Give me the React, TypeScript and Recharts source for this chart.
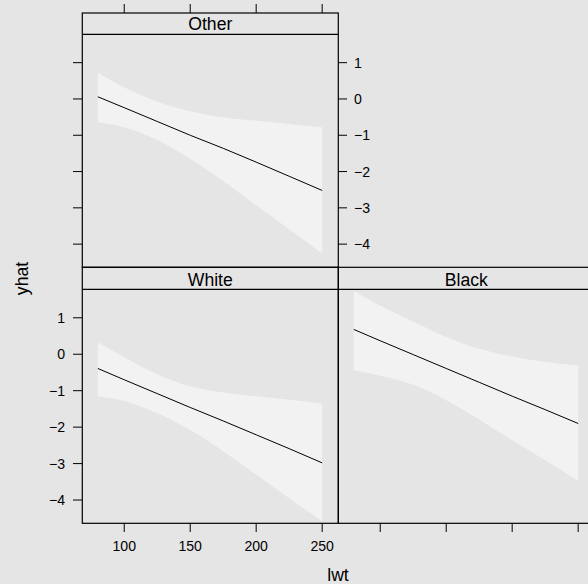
import React from 'react';
import { ComposedChart, Area, Line, XAxis, YAxis } from 'recharts';

const lwt = [80, 100, 125, 150, 175, 200, 225, 250];

const otherFit = [0.06, -0.24, -0.62, -1.0, -1.36, -1.74, -2.13, -2.52];
const otherUpper = [0.73, 0.32, -0.07, -0.34, -0.51, -0.6, -0.69, -0.78];
const otherLower = [-0.64, -0.78, -1.13, -1.65, -2.26, -2.93, -3.59, -4.26];

const whiteFit = [-0.39, -0.7, -1.08, -1.46, -1.83, -2.21, -2.59, -2.98];
const whiteUpper = [0.33, -0.08, -0.55, -0.88, -1.05, -1.15, -1.25, -1.35];
const whiteLower = [-1.16, -1.28, -1.62, -2.08, -2.66, -3.3, -3.95, -4.58];

const blackFit = [0.68, 0.37, -0.01, -0.39, -0.77, -1.15, -1.52, -1.9];
const blackUpper = [1.74, 1.33, 0.9, 0.47, 0.15, -0.06, -0.21, -0.31];
const blackLower = [-0.44, -0.59, -0.84, -1.26, -1.79, -2.36, -2.91, -3.48];

const xTicks = [100, 150, 200, 250];
const yTicks = [-4, -3, -2, -1, 0, 1];
const panelNames = ['Other', 'White', 'Black'];
const xLabel = 'lwt';
const yLabel = 'yhat';

const X_DOMAIN: [number, number] = [68, 262];
const Y_DOMAIN: [number, number] = [-4.63, 1.79];

const BG = '#e5e5e5';
const BAND = '#f2f2f2';
const FONT = '"Liberation Sans", Arial, Helvetica, sans-serif';
const W = 600;
const H = 584;

const build = (fit: number[], lo: number[], hi: number[]) =>
  lwt.map((x, i) => ({ lwt: x, fit: fit[i], band: [lo[i], hi[i]] }));

const fmt = (v: number) => String(v).replace('-', '\u2212');
const blank = () => '';
const tickStyle = { fill: '#000', fontSize: 14.1, fontFamily: FONT };
const tickLineStyle = { stroke: '#000', strokeWidth: 1 };

const TopTick = (props: any) => {
  const { x, y } = props;
  return <line x1={x} x2={x} y1={y - 21} y2={y - 30} stroke="#000" strokeWidth={1} />;
};

function Panel({ data, margin, children }: any) {
  return (
    <div style={{ position: 'absolute', left: 0, top: 0 }}>
      <ComposedChart width={W} height={H} data={data} margin={margin}>
        {children}
        <Area
          yAxisId="y"
          type="natural"
          dataKey="band"
          stroke="none"
          fill={BAND}
          fillOpacity={1}
          isAnimationActive={false}
          dot={false}
          activeDot={false}
        />
        <Line
          yAxisId="y"
          type="linear"
          dataKey="fit"
          stroke="#000"
          strokeWidth={1}
          dot={false}
          activeDot={false}
          isAnimationActive={false}
        />
      </ComposedChart>
    </div>
  );
}

export default function App() {
  const otherData = build(otherFit, otherLower, otherUpper);
  const whiteData = build(whiteFit, whiteLower, whiteUpper);
  const blackData = build(blackFit, blackLower, blackUpper);

  return (
    <div
      style={{
        position: 'absolute',
        left: 0,
        top: 0,
        width: 588,
        height: 584,
        overflow: 'hidden',
        background: BG,
        fontFamily: FONT,
      }}
    >
      {/* Other panel: top-left */}
      <Panel data={otherData} margin={{ top: 14, right: 222, bottom: 317, left: 42 }}>
        <XAxis
          type="number"
          dataKey="lwt"
          orientation="top"
          height={20}
          domain={X_DOMAIN}
          allowDataOverflow
          ticks={xTicks}
          axisLine={false}
          tickLine={false}
          tickSize={0}
          tickMargin={0}
          tick={<TopTick />}
        />
        <YAxis
          yAxisId="y"
          type="number"
          orientation="left"
          width={40}
          domain={Y_DOMAIN}
          allowDataOverflow
          ticks={yTicks}
          axisLine={false}
          tickLine={tickLineStyle}
          tickSize={9}
          tickMargin={8}
          tickFormatter={blank}
          tick={tickStyle}
        />
        <YAxis
          yAxisId="r"
          type="number"
          orientation="right"
          width={40}
          domain={Y_DOMAIN}
          allowDataOverflow
          ticks={yTicks}
          axisLine={false}
          tickLine={tickLineStyle}
          tickSize={9}
          tickMargin={7}
          tickFormatter={fmt}
          tick={tickStyle}
        />
      </Panel>

      {/* White panel: bottom-left */}
      <Panel data={whiteData} margin={{ top: 289, right: 262, bottom: 21, left: 42 }}>
        <XAxis
          type="number"
          dataKey="lwt"
          orientation="bottom"
          height={40}
          domain={X_DOMAIN}
          allowDataOverflow
          ticks={xTicks}
          axisLine={false}
          tickLine={tickLineStyle}
          tickSize={9}
          tickMargin={9}
          tick={tickStyle}
        />
        <YAxis
          yAxisId="y"
          type="number"
          orientation="left"
          width={40}
          domain={Y_DOMAIN}
          allowDataOverflow
          ticks={yTicks}
          axisLine={false}
          tickLine={tickLineStyle}
          tickSize={9}
          tickMargin={8}
          tickFormatter={fmt}
          tick={tickStyle}
        />
      </Panel>

      {/* Black panel: bottom-right */}
      <Panel data={blackData} margin={{ top: 289, right: 6, bottom: 21, left: 338 }}>
        <XAxis
          type="number"
          dataKey="lwt"
          orientation="bottom"
          height={40}
          domain={X_DOMAIN}
          allowDataOverflow
          ticks={xTicks}
          axisLine={false}
          tickLine={tickLineStyle}
          tickSize={9}
          tickMargin={9}
          tickFormatter={blank}
          tick={tickStyle}
        />
        <YAxis yAxisId="y" type="number" hide domain={Y_DOMAIN} allowDataOverflow ticks={yTicks} width={0} />
      </Panel>

      {/* frames, strips and labels */}
      <svg
        width={W}
        height={H}
        style={{ position: 'absolute', left: 0, top: 0, pointerEvents: 'none' }}
      >
        <g fill="none" stroke="#000" strokeWidth={1.2}>
          <rect x={82.3} y={13} width={256} height={254.3} />
          <line x1={82.3} x2={338.3} y1={34.3} y2={34.3} />
          <rect x={82.3} y={267.3} width={256} height={256} />
          <line x1={82.3} x2={338.3} y1={289.3} y2={289.3} />
          <rect x={338.3} y={267.3} width={256} height={256} />
          <line x1={338.3} x2={594.3} y1={289.3} y2={289.3} />
        </g>
        <g fontFamily={FONT} fontSize={17.6} fill="#000" textAnchor="middle">
          <text x={210.3} y={30.3}>{panelNames[0]}</text>
          <text x={210.3} y={286.3}>{panelNames[1]}</text>
          <text x={466.3} y={286.3}>{panelNames[2]}</text>
          <text x={338} y={581}>{xLabel}</text>
          <text x={28} y={278.5} transform="rotate(-90 28 278.5)">{yLabel}</text>
        </g>
      </svg>
    </div>
  );
}
